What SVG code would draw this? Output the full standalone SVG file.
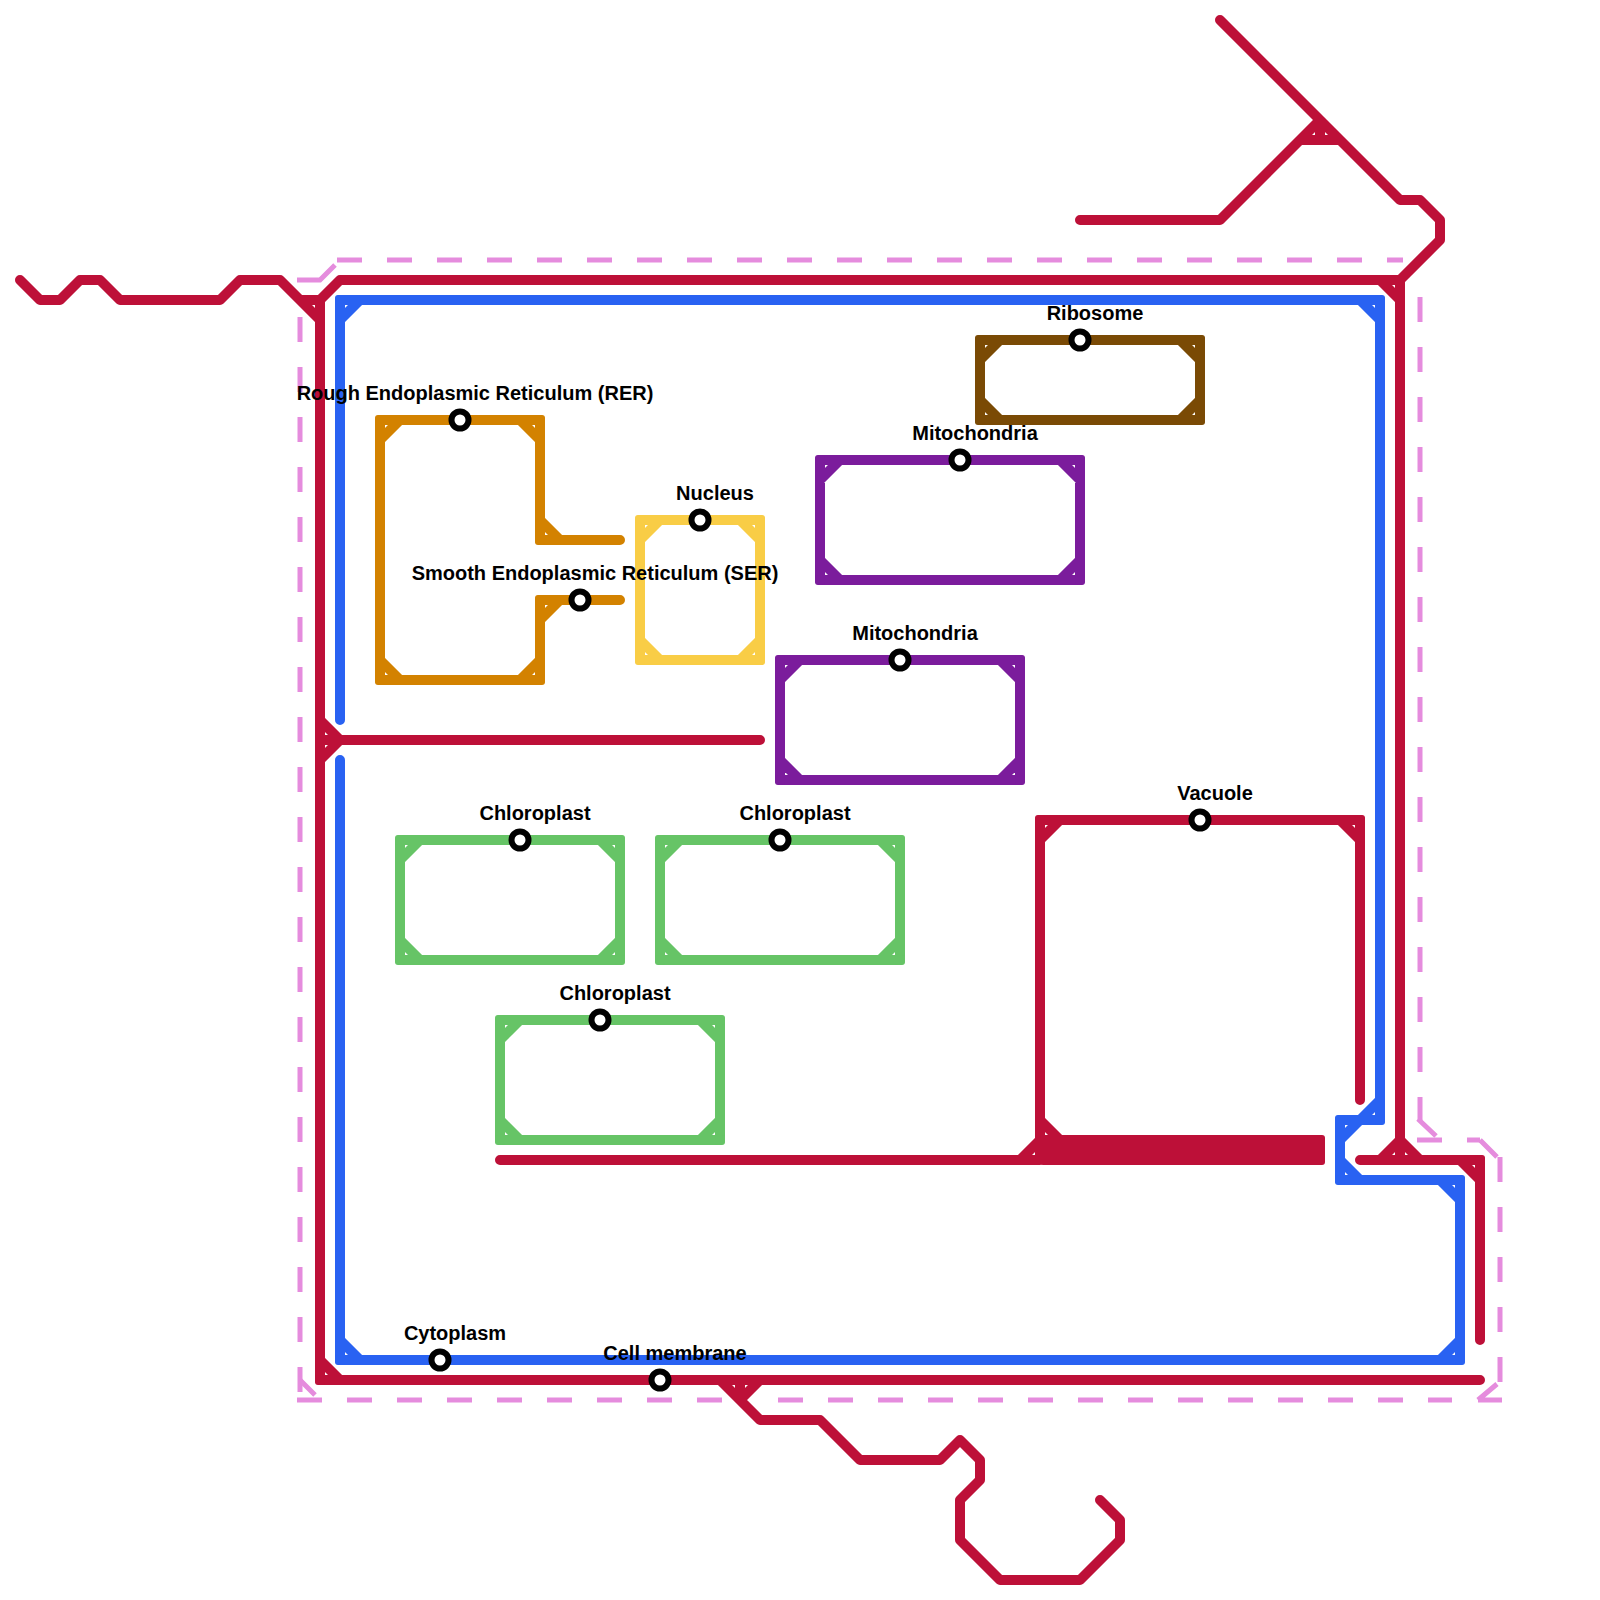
<svg xmlns="http://www.w3.org/2000/svg" width="1600" height="1600" viewBox="0 0 1600 1600">
<style>
.l{fill:none;stroke-width:10;stroke-linecap:round;stroke-linejoin:round}
.red{stroke:#bd1038}.blue{stroke:#2962f2}.org{stroke:#d38200}.yel{stroke:#f9cd46}.pur{stroke:#7b1c9c}.brn{stroke:#7a4a05}.grn{stroke:#66c466}
.d{fill:none;stroke:#e58cdd;stroke-width:5;stroke-dasharray:25 25}
.e{fill:none;stroke:#e58cdd;stroke-width:5}
.st{fill:#fff;stroke:#000;stroke-width:6}
text{font-family:"Liberation Sans",Arial,sans-serif;font-weight:700;font-size:20px;fill:#000;text-anchor:middle}
</style>
<defs><rect id="k" x="-5" y="-5" width="10" height="10" rx="3"/></defs>
<g id="connectors">
<g id="membrane-outline">
<path class="d" d="M300 317V1392M297 1400H747M778 1400H1452M337 260H1403M1420 297V1120M1500 1157V1382M1417 1140H1442M1467 1140H1480"/>
<path class="e" d="M297 280H320L335 265M300 1380L315 1395M1418 1119L1436 1136M1480 1140L1497 1157M1497 1384L1478 1400M1478 1400H1502"/>
</g>
<g id="line-blue" fill="#2962f2">
<path class="l blue" d="M340 720V300H1380V1120H1340V1180H1460V1360H340V760M340 320L360 300M1360 300L1380 320M1360 1120L1380 1100M1340 1140L1360 1120M1340 1160L1360 1180M1440 1180L1460 1200M1440 1360L1460 1340M340 1340L360 1360"/>
<use href="#k" x="340" y="300"/><use href="#k" x="1380" y="300"/><use href="#k" x="1380" y="1120"/><use href="#k" x="1340" y="1120"/><use href="#k" x="1340" y="1180"/><use href="#k" x="1460" y="1180"/><use href="#k" x="1460" y="1360"/><use href="#k" x="340" y="1360"/>
</g>
<g id="line-red" fill="#bd1038">
<path class="l red" d="M20 280L40 300H60L80 280H100L120 300H220L240 280H280L320 320M320 300V1380H1480M300 300H320L340 280H1400L1440 240V220L1420 200H1400L1220 20M1080 220H1220L1320 120V140M1300 140H1340M1400 280V1160M1380 280L1400 300M320 720L340 740L320 760M320 740H760M320 1360L340 1380M720 1380L760 1420H820L860 1460H940L960 1440L980 1460V1480L960 1500V1540L1000 1580H1080L1120 1540V1520L1100 1500M760 1380L740 1400V1380M1360 1160H1480V1340M1460 1160L1480 1180M1380 1160L1400 1140L1420 1160M1040 1160V820H1360V1100M1040 840L1060 820M1340 820L1360 840M1040 1120L1060 1140M1020 1160L1040 1140M500 1160H1040"/>
<rect x="1040" y="1135" width="285" height="30" rx="3"/>
<use href="#k" x="320" y="1380"/><use href="#k" x="1480" y="1160"/><use href="#k" x="1040" y="820"/><use href="#k" x="1360" y="820"/>
</g>
<g id="line-orange" fill="#d38200">
<path class="l org" d="M620 540H540V420H380V680H540V600H620M380 440L400 420M520 420L540 440M540 520L560 540M540 620L560 600M520 680L540 660M380 660L400 680"/>
<use href="#k" x="380" y="420"/><use href="#k" x="540" y="420"/><use href="#k" x="540" y="540"/><use href="#k" x="540" y="600"/><use href="#k" x="540" y="680"/><use href="#k" x="380" y="680"/>
</g>
<g id="line-yellow" fill="#f9cd46">
<path class="l yel" d="M640 520H760V660H640ZM640 540L660 520M740 520L760 540M640 640L660 660M740 660L760 640"/>
<use href="#k" x="640" y="520"/><use href="#k" x="760" y="520"/><use href="#k" x="760" y="660"/><use href="#k" x="640" y="660"/>
</g>
<g id="line-purple" fill="#7b1c9c">
<path class="l pur" d="M820 460H1080V580H820ZM820 480L840 460M1060 460L1080 480M820 560L840 580M1060 580L1080 560M780 660H1020V780H780ZM780 680L800 660M1000 660L1020 680M780 760L800 780M1000 780L1020 760"/>
<use href="#k" x="820" y="460"/><use href="#k" x="1080" y="460"/><use href="#k" x="1080" y="580"/><use href="#k" x="820" y="580"/><use href="#k" x="780" y="660"/><use href="#k" x="1020" y="660"/><use href="#k" x="1020" y="780"/><use href="#k" x="780" y="780"/>
</g>
<g id="line-brown" fill="#7a4a05">
<path class="l brn" d="M980 340H1200V420H980ZM980 360L1000 340M1180 340L1200 360M980 400L1000 420M1180 420L1200 400"/>
<use href="#k" x="980" y="340"/><use href="#k" x="1200" y="340"/><use href="#k" x="1200" y="420"/><use href="#k" x="980" y="420"/>
</g>
<g id="line-green" fill="#66c466">
<path class="l grn" d="M400 840H620V960H400ZM400 860L420 840M600 840L620 860M400 940L420 960M600 960L620 940M660 840H900V960H660ZM660 860L680 840M880 840L900 860M660 940L680 960M880 960L900 940M500 1020H720V1140H500ZM500 1040L520 1020M700 1020L720 1040M500 1120L520 1140M700 1140L720 1120"/>
<use href="#k" x="400" y="840"/><use href="#k" x="620" y="840"/><use href="#k" x="620" y="960"/><use href="#k" x="400" y="960"/><use href="#k" x="660" y="840"/><use href="#k" x="900" y="840"/><use href="#k" x="900" y="960"/><use href="#k" x="660" y="960"/><use href="#k" x="500" y="1020"/><use href="#k" x="720" y="1020"/><use href="#k" x="720" y="1140"/><use href="#k" x="500" y="1140"/>
</g>
</g>
<g id="node-rer"><circle class="st" cx="460" cy="420" r="8.5"/><text x="475" y="400">Rough Endoplasmic Reticulum (RER)</text></g>
<g id="node-nucleus"><circle class="st" cx="700" cy="520" r="8.5"/><text x="715" y="500">Nucleus</text></g>
<g id="node-ser"><circle class="st" cx="580" cy="600" r="8.5"/><text x="595" y="580">Smooth Endoplasmic Reticulum (SER)</text></g>
<g id="node-mito-1"><circle class="st" cx="960" cy="460" r="8.5"/><text x="975" y="440">Mitochondria</text></g>
<g id="node-mito-2"><circle class="st" cx="900" cy="660" r="8.5"/><text x="915" y="640">Mitochondria</text></g>
<g id="node-ribosome"><circle class="st" cx="1080" cy="340" r="8.5"/><text x="1095" y="320">Ribosome</text></g>
<g id="node-chloro-1"><circle class="st" cx="520" cy="840" r="8.5"/><text x="535" y="820">Chloroplast</text></g>
<g id="node-chloro-2"><circle class="st" cx="780" cy="840" r="8.5"/><text x="795" y="820">Chloroplast</text></g>
<g id="node-chloro-3"><circle class="st" cx="600" cy="1020" r="8.5"/><text x="615" y="1000">Chloroplast</text></g>
<g id="node-vacuole"><circle class="st" cx="1200" cy="820" r="8.5"/><text x="1215" y="800">Vacuole</text></g>
<g id="node-cytoplasm"><circle class="st" cx="440" cy="1360" r="8.5"/><text x="455" y="1340">Cytoplasm</text></g>
<g id="node-membrane"><circle class="st" cx="660" cy="1380" r="8.5"/><text x="675" y="1360">Cell membrane</text></g>
</svg>
